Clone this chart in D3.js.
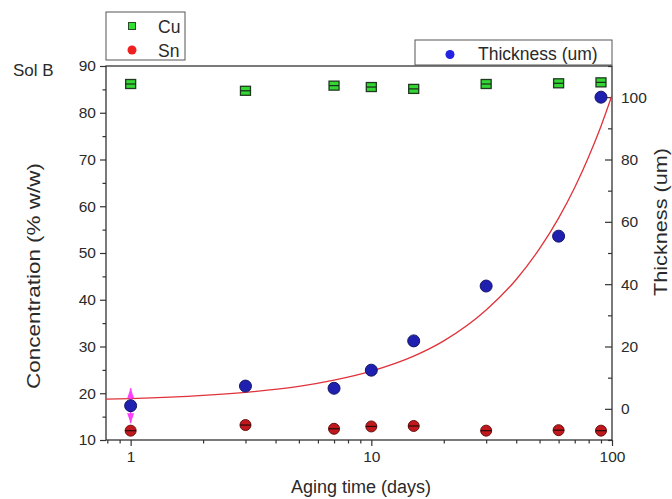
<!DOCTYPE html>
<html><head><meta charset="utf-8">
<script src="https://cdn.jsdelivr.net/npm/d3@7"></script>
<style>body{margin:0;background:#fff}svg{display:block}text{font-family:"Liberation Sans",Arial,sans-serif;fill:#2a2a2a}</style>
</head><body><svg id="c" width="672" height="499"></svg>
<script>
const days = [1, 3, 7, 10, 15, 30, 60, 90];
const cu = [86.15, 84.7, 85.8, 85.5, 85.1, 86.15, 86.3, 86.5];
const sn = [12.0, 13.2, 12.4, 12.9, 13.0, 12.0, 12.1, 12.0];
const thickness = [1.0, 7.3, 6.6, 12.4, 21.8, 39.4, 55.4, 100.0];
const thicknessErr = [5.6, 0, 0, 0, 0, 0, 0, 0];
const fitDays = [0.79, 1, 2, 3, 5, 7, 10, 15, 20, 30, 40, 50, 60, 70, 80, 90, 100];
const fitThick = [3.1, 3.3, 4.3, 5.3, 7.2, 9.2, 12.1, 16.9, 21.8, 31.7, 41.5, 51.4, 61.2, 71.0, 80.9, 90.7, 100.6];
const xMajor = [1, 10, 100];
const xMinor = [0.8, 0.9, 2, 3, 4, 5, 6, 7, 8, 9, 20, 30, 40, 50, 60, 70, 80, 90];
const yLeftMajor = [10, 20, 30, 40, 50, 60, 70, 80, 90];
const yLeftMinor = [15, 25, 35, 45, 55, 65, 75, 85];
const yRightMajor = [0, 20, 40, 60, 80, 100];
const yRightMinor = [-10, 10, 30, 50, 70, 90, 110];

const svg = d3.select("#c");
const L = 106, R = 612, T = 66, B = 440;
const x = d3.scaleLog().domain([0.79, 100]).range([L, R]);
const yl = d3.scaleLinear().domain([10, 90]).range([B, T]);
const yr = d3.scaleLinear().domain([-10, 110]).range([B, T]);
const axisCol = "#333";
const fs = "15.5px";

function styleAxis(g){ g.select(".domain").remove(); g.selectAll("line").attr("stroke", axisCol).attr("stroke-width", 1.2); g.selectAll("text").style("font-size", fs).attr("fill", "#2a2a2a"); }

svg.append("g").attr("transform", `translate(0,${B})`).call(d3.axisBottom(x).tickValues(xMajor).tickSize(6).tickPadding(5).tickFormat(d3.format("d"))).call(styleAxis);
svg.append("g").attr("transform", `translate(0,${B})`).call(d3.axisBottom(x).tickValues(xMinor).tickSize(3.5).tickFormat("")).call(styleAxis);
svg.append("g").attr("transform", `translate(${L},0)`).call(d3.axisLeft(yl).tickValues(yLeftMajor).tickSize(6).tickPadding(4)).call(styleAxis);
svg.append("g").attr("transform", `translate(${L},0)`).call(d3.axisLeft(yl).tickValues(yLeftMinor).tickSize(3.5).tickFormat("")).call(styleAxis);
svg.append("g").attr("transform", `translate(${R},0)`).call(d3.axisRight(yr).tickValues(yRightMajor).tickSize(-7).tickPadding(9)).call(styleAxis);
svg.append("g").attr("transform", `translate(${R},0)`).call(d3.axisRight(yr).tickValues(yRightMinor).tickSize(-4).tickFormat("")).call(styleAxis);

svg.append("rect").attr("x", L).attr("y", T).attr("width", R - L).attr("height", B - T).attr("fill", "none").attr("stroke", axisCol).attr("stroke-width", 1.3);
svg.append("clipPath").attr("id", "clip").append("rect").attr("x", L).attr("y", T).attr("width", R - L).attr("height", B - T);

const line = d3.line().x((d, i) => x(fitDays[i])).y(d => yr(d)).curve(d3.curveMonotoneX);
svg.append("path").attr("clip-path", "url(#clip)").attr("d", line(fitThick)).attr("fill", "none").attr("stroke", "#e0323a").attr("stroke-width", 1.3);

const eg = svg.append("g");
days.forEach((d, i) => {
  const e = thicknessErr[i]; if (!e) return;
  const cx = x(d), top = yr(thickness[i] + e), bot = yr(thickness[i] - e);
  eg.append("line").attr("x1", cx).attr("x2", cx).attr("y1", top).attr("y2", bot).attr("stroke", "#ff33ff").attr("stroke-width", 1.5);
  eg.append("path").attr("d", `M${cx},${top} L${cx - 3.5},${top + 10} L${cx + 3.5},${top + 10} Z`).attr("fill", "#ff40ff");
  eg.append("path").attr("d", `M${cx},${bot} L${cx - 3.5},${bot - 10} L${cx + 3.5},${bot - 10} Z`).attr("fill", "#ff40ff");
});

const cg = svg.append("g");
days.forEach((d, i) => {
  const cx = x(d), cy = yl(cu[i]);
  cg.append("rect").attr("x", cx - 5).attr("y", cy - 4.5).attr("width", 10).attr("height", 9).attr("fill", "#33d633").attr("stroke", "#1f3a1f").attr("stroke-width", 1.3);
  cg.append("line").attr("x1", cx - 5).attr("x2", cx + 5).attr("y1", cy).attr("y2", cy).attr("stroke", "#1a2a1a").attr("stroke-width", 1.2);
});
const sg = svg.append("g");
days.forEach((d, i) => {
  const cx = x(d), cy = yl(sn[i]);
  sg.append("circle").attr("cx", cx).attr("cy", cy).attr("r", 5.5).attr("fill", "#c0181c").attr("stroke", "#6a1010").attr("stroke-width", 1);
  sg.append("line").attr("x1", cx - 5.5).attr("x2", cx + 5.5).attr("y1", cy).attr("y2", cy).attr("stroke", "#2a0a0a").attr("stroke-width", 1.2);
});
svg.append("g").selectAll("circle").data(days).join("circle")
  .attr("cx", d => x(d)).attr("cy", (d, i) => yr(thickness[i])).attr("r", 6)
  .attr("fill", "#2020b0").attr("stroke", "#15156a").attr("stroke-width", 1);

svg.append("text").attr("x", (L + R) / 2 + 2).attr("y", 493).attr("text-anchor", "middle").style("font-size", "18px").text("Aging time (days)");
svg.append("text").attr("transform", "translate(40,276) rotate(-90)").attr("text-anchor", "middle").style("font-size", "18.5px")
  .attr("textLength", 226).attr("lengthAdjust", "spacingAndGlyphs").text("Concentration (% w/w)");
svg.append("text").attr("transform", "translate(667,222) rotate(-90)").attr("text-anchor", "middle").style("font-size", "18.5px")
  .attr("textLength", 148).attr("lengthAdjust", "spacingAndGlyphs").text("Thickness (um)");
svg.append("text").attr("x", 13).attr("y", 76).style("font-size", "17px").text("Sol B");

svg.append("rect").attr("x", 106).attr("y", 12).attr("width", 79).attr("height", 48).attr("fill", "#fff").attr("stroke", "#555").attr("stroke-width", 1);
svg.append("rect").attr("x", 128.5).attr("y", 22.5).attr("width", 7).attr("height", 7).attr("fill", "#2fe02f").attr("stroke", "#2a4a2a").attr("stroke-width", 1);
svg.append("text").attr("x", 158).attr("y", 33).style("font-size", "17.5px").text("Cu");
svg.append("circle").attr("cx", 132).attr("cy", 50).attr("r", 4.5).attr("fill", "#f02020");
svg.append("text").attr("x", 158).attr("y", 57).style("font-size", "17.5px").text("Sn");
svg.append("rect").attr("x", 415).attr("y", 40).attr("width", 197).attr("height", 25).attr("fill", "#fff").attr("stroke", "#555").attr("stroke-width", 1);
svg.append("circle").attr("cx", 450).attr("cy", 54.5).attr("r", 4.5).attr("fill", "#2222e0");
svg.append("text").attr("x", 478).attr("y", 60).style("font-size", "17.5px").text("Thickness (um)");
</script></body></html>
